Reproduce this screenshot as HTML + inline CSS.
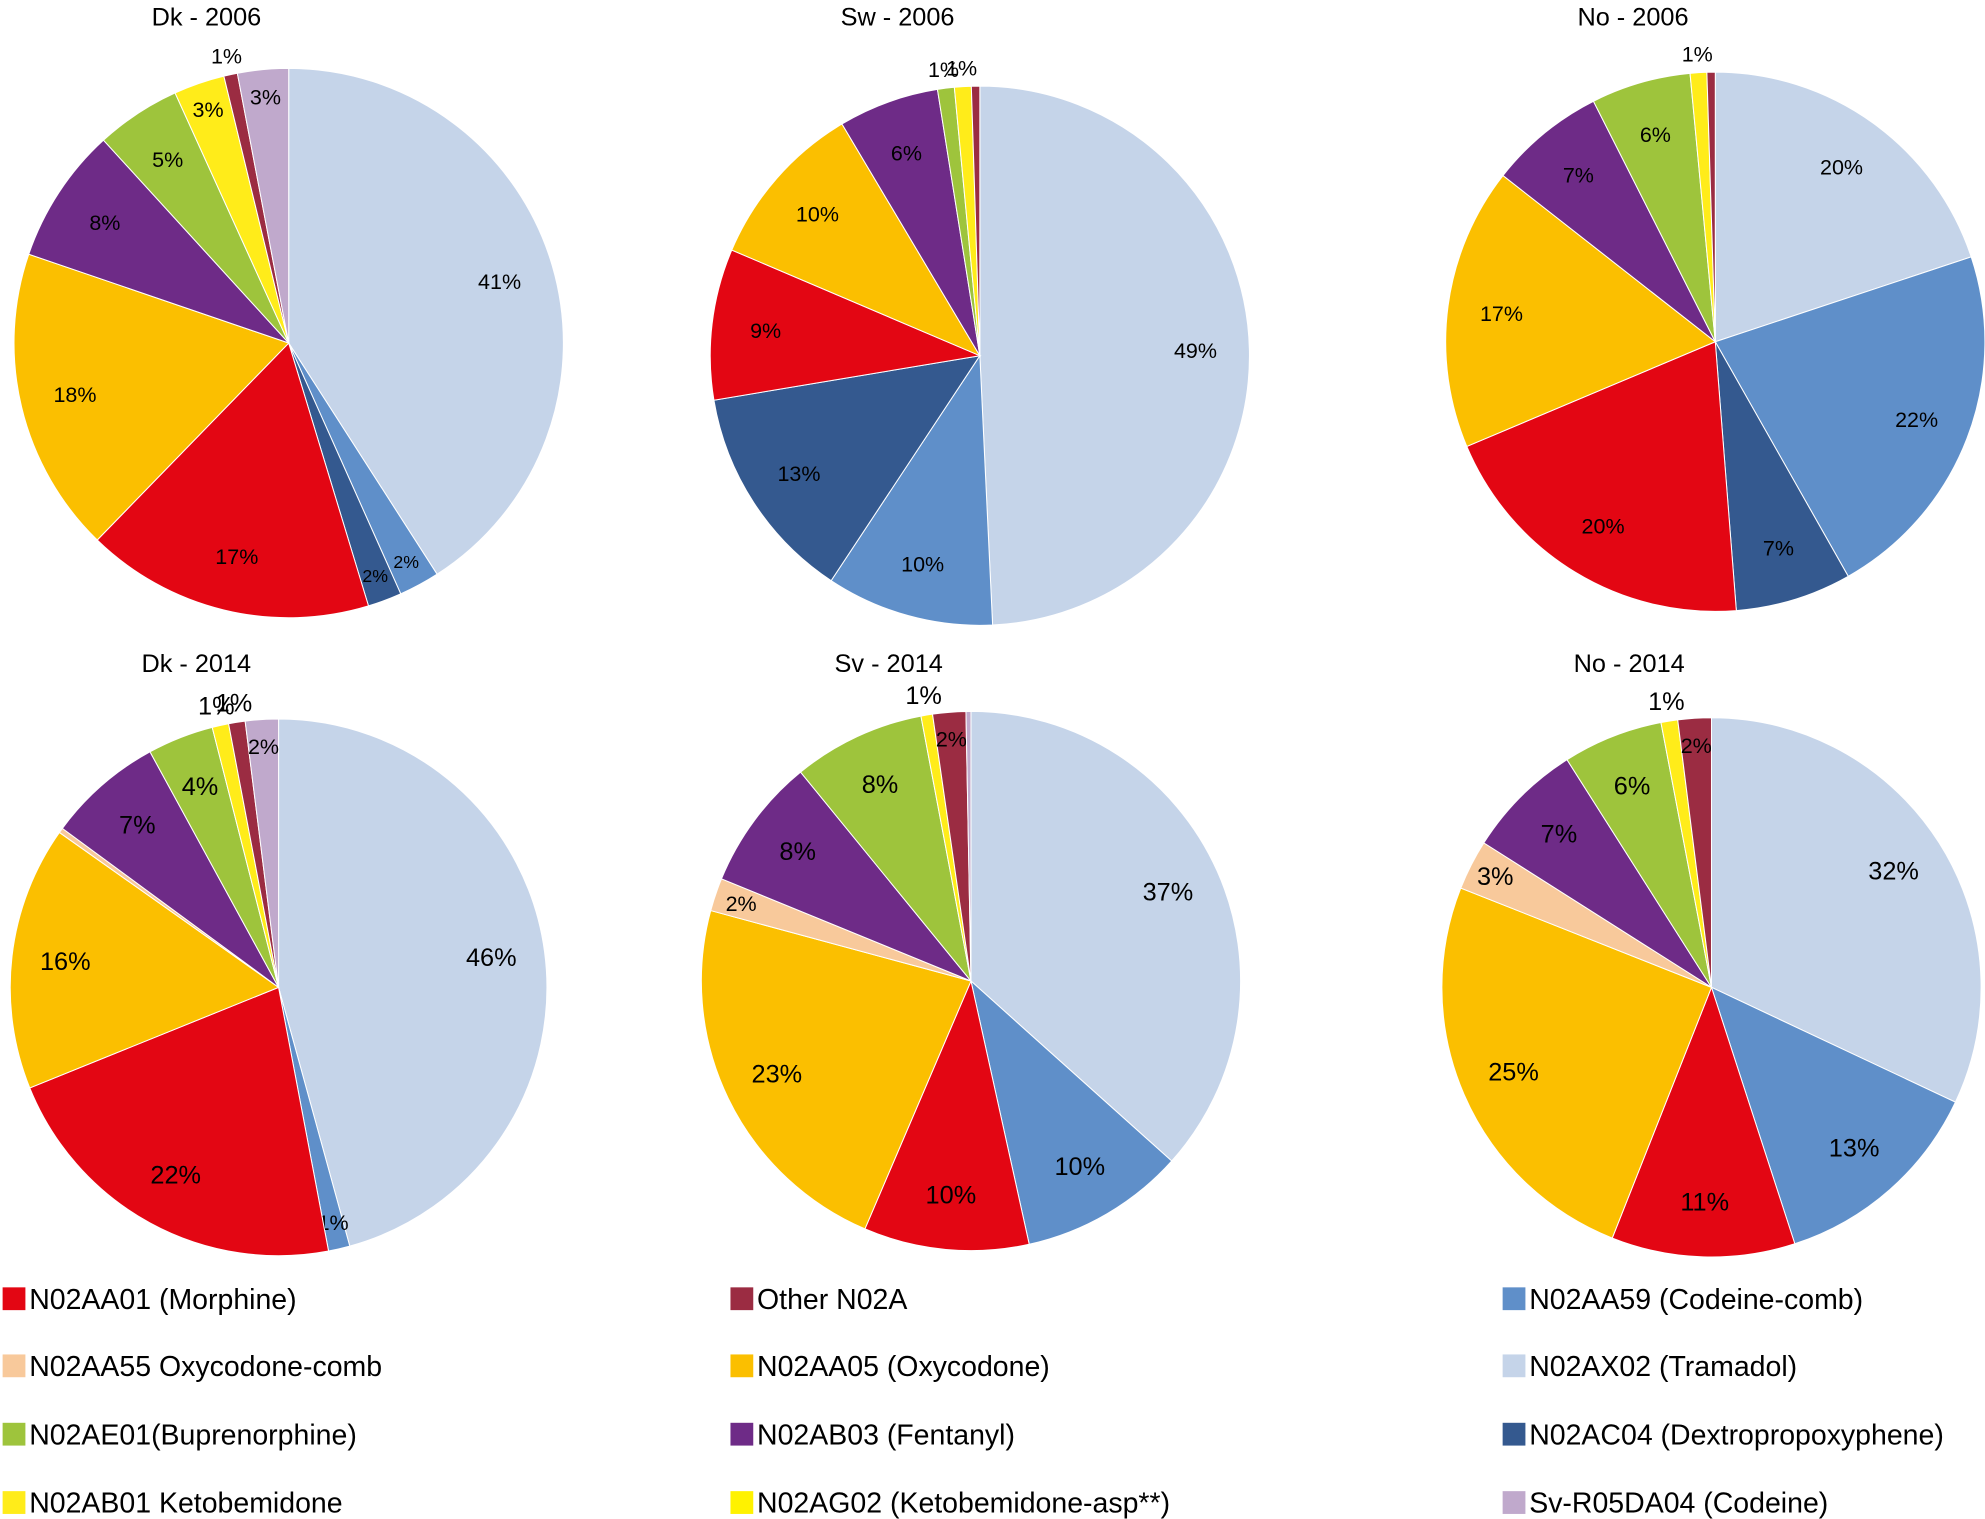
<!DOCTYPE html>
<html><head><meta charset="utf-8"><style>
html,body{margin:0;padding:0;background:#fff;}
svg{display:block;font-family:"Liberation Sans",Arial,sans-serif;}
</style></head><body>
<svg id="chart" width="1985" height="1519" viewBox="0 0 1568 1200" xmlns="http://www.w3.org/2000/svg"></svg>
<script>
const categories = ["N02AX02 (Tramadol)","N02AA59 (Codeine-comb)","N02AC04 (Dextropropoxyphene)","N02AA01 (Morphine)","N02AA05 (Oxycodone)","N02AA55 Oxycodone-comb","N02AB03 (Fentanyl)","N02AE01(Buprenorphine)","N02AB01 Ketobemidone","N02AG02 (Ketobemidone-asp**)","Other N02A","Sv-R05DA04 (Codeine)"];
const colors = ["#c5d4e9","#5f8fc9","#34598f","#e30613","#fbbf00","#f8c99b","#6e2b87","#9ec43c","#ffec1a","#fff200","#9b2c42","#c0a9cc"];
const titles = ["Dk - 2006","Sw - 2006","No - 2006","Dk - 2014","Sv - 2014","No - 2014"];
const dk2006 = [41,2.4,2,17,18,0,8,5,3,0,0.8,3];
const sw2006 = [49,10,13,9,10,0,6,1,1,0,0.5,0];
const no2006 = [20,22,7,20,17,0,7,6,1,0,0.5,0];
const dk2014 = [46,1.3,0,22,16,0.3,7,4,1,0,1,2];
const sv2014 = [37,10,0,10,23,2,8,8,0.7,0,2,0.3];
const no2014 = [32,13,0,11,25,3,7,6,1,0,2,0];
const series = [dk2006,sw2006,no2006,dk2014,sv2014,no2014];
const legendOrder = [[3,5,7,8],[10,4,6,9],[1,0,2,11]];

const NS="http://www.w3.org/2000/svg";
const svg=document.getElementById('chart');
function mk(tag,attrs){const e=document.createElementNS(NS,tag);for(const k in attrs)e.setAttribute(k,attrs[k]);return e;}
const layout=[[228,271,217],[774,281,213],[1355,270,213],[220,780,212],[767,775,213],[1352,780,213]];
const titleY=[20,20,20,531,531,531];
const fontSz=[17,17,17,20,20,20];
function pt(cx,cy,r,a){return [cx+r*Math.sin(a),cy-r*Math.cos(a)];}
series.forEach((vals,si)=>{
  const [cx,cy,r]=layout[si];
  const g=mk('g',{});
  
  
  svg.appendChild(g);
  const t=mk('text',{x:cx-65,y:titleY[si],'text-anchor':'middle','font-size':20,fill:'#000'});
  
  
  t.textContent=titles[si];g.appendChild(t);
  const total=vals.reduce((a,b)=>a+b,0);
  let a0=0;
  vals.forEach((v,i)=>{
    if(v<=0)return;
    const a1=a0+v/total*2*Math.PI;
    const p0=pt(cx,cy,r,a0),p1=pt(cx,cy,r,a1);
    const large=(a1-a0)>Math.PI?1:0;
    const path=mk('path',{d:`M${cx},${cy}L${p0[0]},${p0[1]}A${r},${r} 0 ${large} 1 ${p1[0]},${p1[1]}Z`,fill:colors[i],stroke:'#fff','stroke-width':0.8});
    
    
    g.appendChild(path);
    if(v>=0.6){
      const am=(a0+a1)/2;
      const f=v<1.2?1.07:(v<4?0.9:0.8);
      const lp=pt(cx,cy,r*f,am);
      const lt=mk('text',{x:lp[0],y:lp[1]+6,'text-anchor':'middle','font-size':v<2.5&&v>=1.2?fontSz[si]-3:fontSz[si],fill:'#000'});
      
      
      lt.textContent=Math.max(1,Math.round(v))+'%';
      g.appendChild(lt);
    }
    a0=a1;
  });
});
const colX=[0,575,1185],rowY=[1026,1079,1133,1187];
legendOrder.forEach((col,ci)=>col.forEach((idx,ri)=>{
  const g=mk('g',{});
  
  
  const r=mk('rect',{x:colX[ci]+2,y:rowY[ri]-9,width:18,height:18,fill:colors[idx]});
  
  
  const t=mk('text',{x:colX[ci]+23,y:rowY[ri]+8,'font-size':22.5,fill:'#000'});
  
  
  t.textContent=categories[idx];
  g.appendChild(r);g.appendChild(t);svg.appendChild(g);
}));
</script>
</body></html>
